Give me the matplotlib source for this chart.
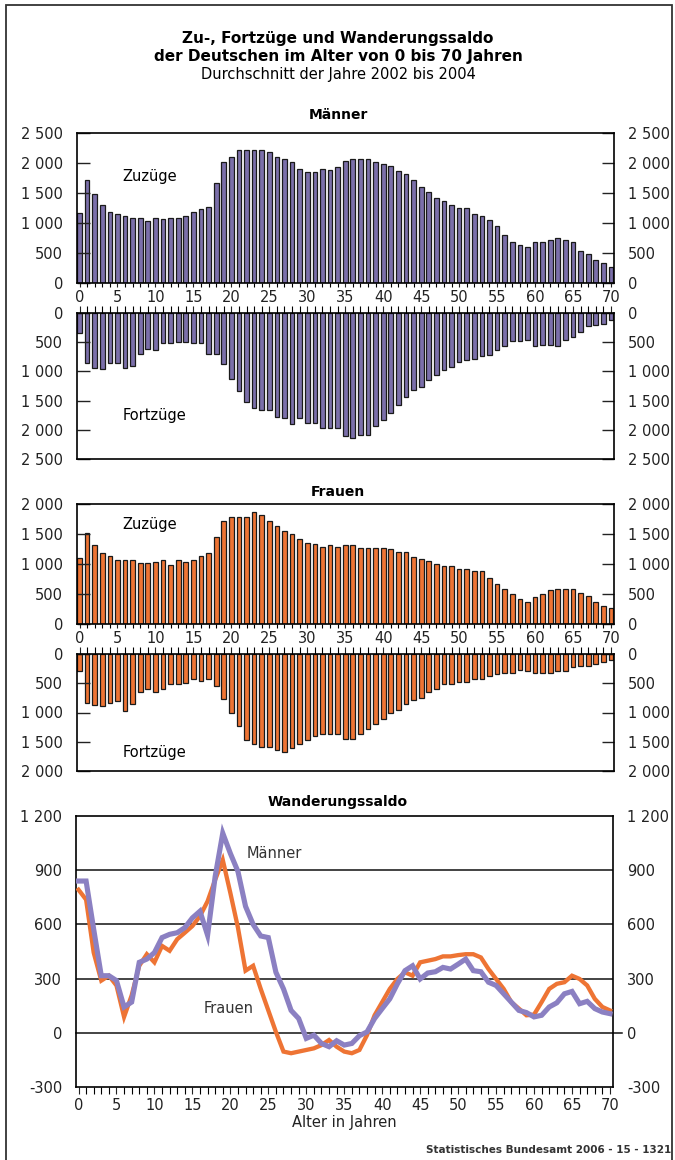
import numpy as np
import matplotlib.pyplot as plt
from matplotlib.ticker import FuncFormatter, MultipleLocator
from matplotlib.patches import Rectangle

alter = np.arange(0, 71)

maenner_zuzuege = [1170, 1720, 1480, 1300, 1180, 1150, 1120, 1090, 1090, 1040,
                   1090, 1070, 1090, 1090, 1110, 1180, 1240, 1270, 1660, 2010,
                   2100, 2220, 2220, 2220, 2220, 2190, 2100, 2070, 2010, 1900,
                   1850, 1850, 1900, 1880, 1930, 2040, 2070, 2070, 2070, 2020,
                   1990, 1955, 1870, 1810, 1710, 1600, 1510, 1420, 1370, 1305,
                   1245, 1245, 1155, 1120, 1045, 945, 800, 690, 630, 595,
                   685, 685, 710, 745, 715, 685, 535, 480, 390, 335, 260]

maenner_fortzuege = [340, 850, 935, 965, 850, 850, 935, 910, 695, 610,
                     635, 510, 510, 495, 495, 510, 510, 695, 695, 880,
                     1125, 1330, 1520, 1635, 1660, 1660, 1785, 1805, 1900, 1805,
                     1875, 1875, 1965, 1965, 1965, 2110, 2145, 2085, 2085, 1930,
                     1840, 1710, 1570, 1440, 1325, 1265, 1140, 1055, 980, 925,
                     840, 810, 790, 740, 715, 630, 570, 485, 485, 455,
                     560, 540, 540, 570, 455, 410, 325, 230, 200, 185, 115]

frauen_zuzuege = [1100, 1520, 1310, 1190, 1140, 1070, 1070, 1070, 1020, 1020,
                  1040, 1070, 980, 1070, 1040, 1070, 1130, 1180, 1450, 1720,
                  1780, 1780, 1780, 1870, 1810, 1720, 1640, 1550, 1500, 1420,
                  1350, 1330, 1290, 1320, 1290, 1320, 1320, 1260, 1260, 1260,
                  1260, 1250, 1200, 1200, 1115, 1080, 1050, 1000, 965, 965,
                  910, 910, 880, 880, 765, 670, 590, 500, 410, 375,
                  445, 500, 560, 590, 590, 590, 525, 470, 375, 295, 260]

frauen_fortzuege = [285, 830, 865, 890, 830, 800, 975, 855, 645, 590,
                    645, 590, 520, 520, 490, 430, 465, 435, 550, 775,
                    1005, 1230, 1465, 1530, 1590, 1590, 1645, 1680, 1615, 1530,
                    1465, 1405, 1375, 1375, 1375, 1445, 1445, 1375, 1290, 1200,
                    1105, 1005, 950, 855, 790, 745, 655, 590, 520, 520,
                    475, 475, 435, 435, 375, 350, 320, 320, 265, 290,
                    320, 320, 320, 285, 285, 230, 200, 200, 170, 145, 105]

saldo_maenner = [840, 840, 573, 316, 316, 289, 143, 170, 390, 408,
                 444, 527, 545, 554, 582, 636, 673, 540, 865, 1105,
                 993, 893, 700, 600, 536, 527, 335, 243, 124, 79,
                 -31, -13, -59, -77, -44, -68, -59, -16, 5, 79,
                 134, 188, 271, 344, 371, 298, 331, 338, 362, 353,
                 380, 408, 344, 338, 280, 262, 216, 170, 124, 112,
                 88, 97, 143, 166, 216, 229, 161, 174, 134, 115, 106]

saldo_frauen = [792, 737, 444, 289, 316, 262, 88, 207, 371, 435,
                390, 481, 454, 518, 554, 591, 646, 728, 847, 957,
                774, 582, 344, 371, 243, 124, 5, -104, -113, -104,
                -95, -86, -68, -40, -77, -104, -113, -95, -13, 97,
                170, 243, 298, 335, 316, 390, 399, 408, 423, 423,
                430, 435, 435, 417, 353, 298, 243, 170, 134, 97,
                101, 170, 243, 271, 280, 316, 298, 262, 188, 143, 124]

lila = '#7B6FAA'
lila_linie = '#8B80C2'
orange = '#EE7434'
W, H = 675, 1160

plt.rcParams['font.family'] = ['DejaVu Sans']
plt.rcParams['font.size'] = 10

fig = plt.figure(figsize=(W / 100, H / 100), dpi=100)


def box(l, t, r, b):
    return [l / W, 1 - b / H, (r - l) / W, (b - t) / H]


def tsd(v, pos):
    return f"{int(round(v)):,}".replace(",", " ")


def bar_achse(rect, werte, farbe, ymax, unten):
    ax = fig.add_axes(rect)
    ax.bar(alter, werte, width=0.62, color=farbe, edgecolor='#1a1a1a', linewidth=0.9)
    ax.set_xlim(-0.33, 70.4)
    if unten:
        ax.set_ylim(ymax, 0)
        ax.xaxis.set_ticks_position('top')
        ax.tick_params(axis='x', which='both', direction='out', length=5, width=0.8,
                       labeltop=False, labelbottom=False)
    else:
        ax.set_ylim(0, ymax)
        ax.tick_params(axis='x', which='both', direction='out', length=3, width=0.8, pad=2)
    ax.xaxis.set_major_locator(MultipleLocator(5))
    ax.xaxis.set_minor_locator(MultipleLocator(1))
    ax.xaxis.set_major_formatter(FuncFormatter(lambda v, p: f"{int(v)}"))
    ax.yaxis.set_major_locator(MultipleLocator(500))
    ax.yaxis.set_major_formatter(FuncFormatter(tsd))
    ax.tick_params(axis='y', direction='in', length=9, width=1, left=True, right=True,
                   labelleft=True, labelright=True, pad=10)
    ax.tick_params(labelsize=10.5, colors='#222222')
    for s in ax.spines.values():
        s.set_linewidth(1.2)
    return ax


# Männer
fig.text(338 / W, 1 - 115 / H, 'Männer', ha='center', va='center', fontsize=10, fontweight='bold')
ax1 = bar_achse(box(77, 133, 614, 283), maenner_zuzuege, lila, 2500, False)
ax1.text(0.135, 0.71, 'Zuzüge', transform=ax1.transAxes, ha='center', va='center', fontsize=10.5)
ax2 = bar_achse(box(77, 313, 614, 459), maenner_fortzuege, lila, 2500, True)
ax2.text(0.145, 0.30, 'Fortzüge', transform=ax2.transAxes, ha='center', va='center', fontsize=10.5)

# Frauen
fig.text(338 / W, 1 - 492 / H, 'Frauen', ha='center', va='center', fontsize=10, fontweight='bold')
ax3 = bar_achse(box(77, 504, 614, 624), frauen_zuzuege, orange, 2000, False)
ax3.text(0.135, 0.83, 'Zuzüge', transform=ax3.transAxes, ha='center', va='center', fontsize=10.5)
ax4 = bar_achse(box(77, 654, 614, 771), frauen_fortzuege, orange, 2000, True)
ax4.text(0.145, 0.16, 'Fortzüge', transform=ax4.transAxes, ha='center', va='center', fontsize=10.5)

# Wanderungssaldo
fig.text(338 / W, 1 - 802 / H, 'Wanderungssaldo', ha='center', va='center', fontsize=10, fontweight='bold')
ax5 = fig.add_axes(box(76, 816, 613, 1087))
for g in [300, 600, 900]:
    ax5.axhline(g, color='#111111', lw=1.1, zorder=1)
ax5.axhline(0, xmin=0, xmax=1.016, color='#111111', lw=1.1, zorder=1, clip_on=False)
ax5.plot(alter, saldo_frauen, color=orange, lw=3.1, solid_joinstyle='miter', zorder=3)
ax5.plot(alter, saldo_maenner, color=lila_linie, lw=3.7, solid_joinstyle='miter', zorder=4)
ax5.set_xlim(-0.33, 70.4)
ax5.set_ylim(-300, 1200)
ax5.xaxis.set_major_locator(MultipleLocator(5))
ax5.xaxis.set_minor_locator(MultipleLocator(1))
ax5.xaxis.set_major_formatter(FuncFormatter(lambda v, p: f"{int(v)}"))
ax5.tick_params(axis='x', which='both', direction='out', length=5, width=0.8, pad=3)
ax5.yaxis.set_major_locator(MultipleLocator(300))
ax5.yaxis.set_major_formatter(FuncFormatter(tsd))
ax5.tick_params(axis='y', length=0, left=False, right=False, labelleft=True, labelright=True, pad=10)
ax5.tick_params(labelsize=10.5, colors='#222222')
for s in ax5.spines.values():
    s.set_linewidth(1.2)
ax5.text(0.37, 0.86, 'Männer', transform=ax5.transAxes, ha='center', va='center', fontsize=10.5, color='#333333')
ax5.text(0.285, 0.29, 'Frauen', transform=ax5.transAxes, ha='center', va='center', fontsize=10.5, color='#333333')
ax5.set_xlabel('Alter in Jahren', fontsize=10.5, labelpad=1, color='#222222')

# Überschrift
fig.text(338 / W, 1 - 38 / H, 'Zu-, Fortzüge und Wanderungssaldo', ha='center', va='center',
         fontsize=11, fontweight='bold')
fig.text(338 / W, 1 - 56 / H, 'der Deutschen im Alter von 0 bis 70 Jahren', ha='center', va='center',
         fontsize=11, fontweight='bold')
fig.text(338 / W, 1 - 75 / H, 'Durchschnitt der Jahre 2002 bis 2004', ha='center', va='center',
         fontsize=10.5)
fig.text(671 / W, 1 - 1150 / H, 'Statistisches Bundesamt 2006 - 15 - 1321', ha='right', va='center',
         fontsize=7.5, fontweight='bold', color='#333333')

fig.patches.append(Rectangle((6 / W, -0.01), 666 / W, 1 - 5 / H + 0.01, transform=fig.transFigure,
                             fill=False, edgecolor='#333333', lw=1.3))

fig.savefig('out.png', dpi=100)
